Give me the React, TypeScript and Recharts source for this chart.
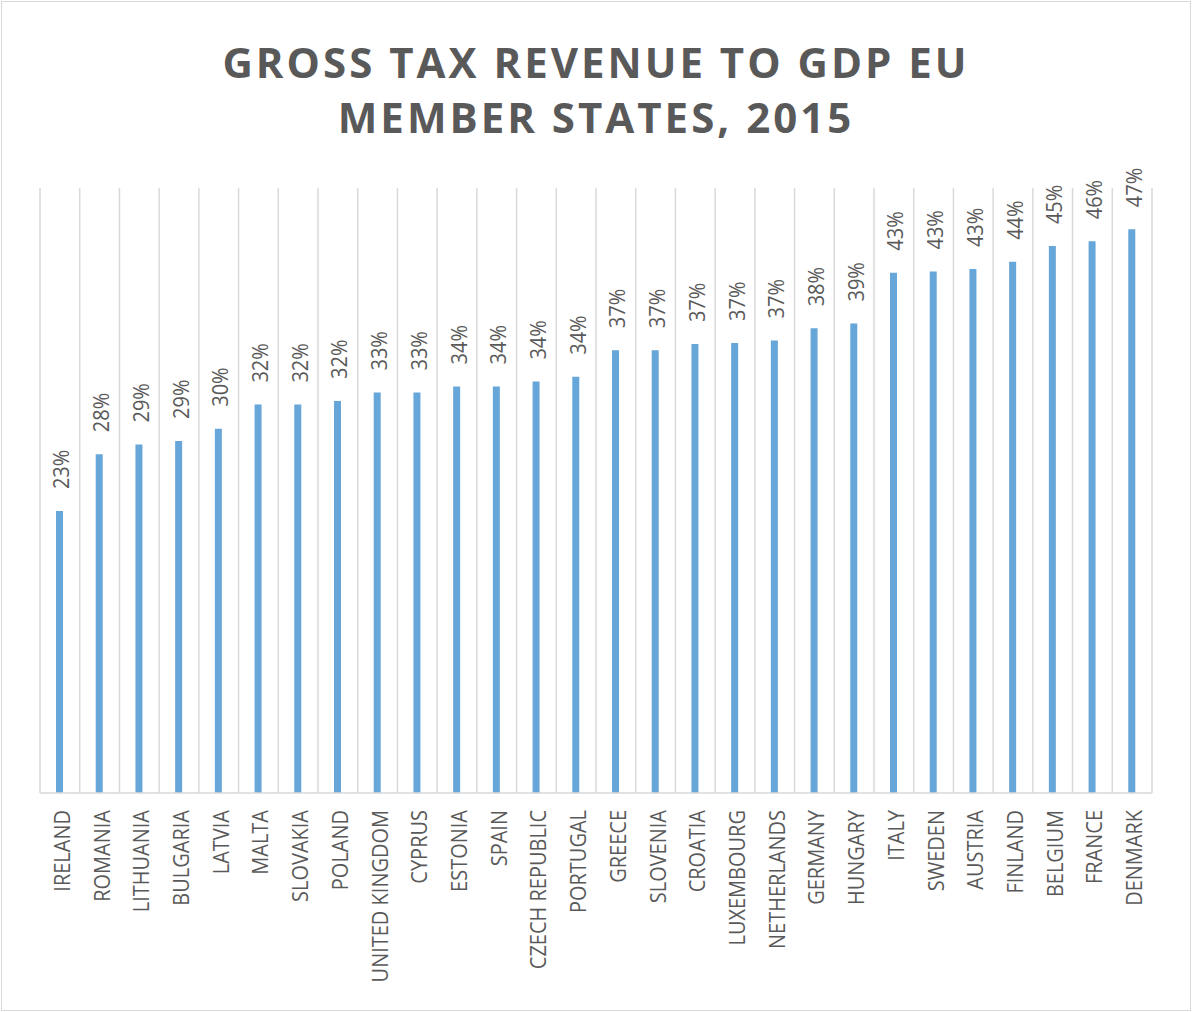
import React from "react";
import { BarChart, Bar, XAxis, YAxis, CartesianGrid, LabelList } from "recharts";

// countries, sorted low to high as in the source chart
const countries = [
  "IRELAND", "ROMANIA", "LITHUANIA", "BULGARIA", "LATVIA", "MALTA", "SLOVAKIA",
  "POLAND", "UNITED KINGDOM", "CYPRUS", "ESTONIA", "SPAIN", "CZECH REPUBLIC",
  "PORTUGAL", "GREECE", "SLOVENIA", "CROATIA", "LUXEMBOURG", "NETHERLANDS",
  "GERMANY", "HUNGARY", "ITALY", "SWEDEN", "AUSTRIA", "FINLAND", "BELGIUM",
  "FRANCE", "DENMARK",
];

// gross tax revenue as % of GDP
const taxToGdp = [
  23.3, 28.0, 28.8, 29.1, 30.1, 32.1, 32.1, 32.4, 33.1, 33.1, 33.6, 33.6, 34.0,
  34.4, 36.6, 36.6, 37.1, 37.2, 37.4, 38.4, 38.8, 43.0, 43.1, 43.3, 43.9, 45.2,
  45.6, 46.6,
];

const yDomain: [number, number] = [0, 50];

const data = countries.map((country, i) => ({ country, value: taxToGdp[i] }));

const textColor = "#595959";
const gridColor = "#d9d9d9";
const font = "'Open Sans', sans-serif";

// vertical text, slightly widened like the source image
const VText = ({ x, y, anchor, children }: any) => (
  <text
    x={0}
    y={0}
    transform={`translate(${x}, ${y}) scale(1.12, 1) rotate(-90)`}
    textAnchor={anchor}
    dominantBaseline="central"
    fill={textColor}
    fontSize={20}
    fontFamily={font}
  >
    {children}
  </text>
);

const CountryTick = (props: any) => {
  const { x, y, payload } = props;
  return (
    <VText x={x + 1} y={y + 17} anchor="end">
      {payload.value}
    </VText>
  );
};

const ValueLabel = (props: any) => {
  const { x, y, width, value } = props;
  return (
    <VText x={x + width / 2 + 1} y={y - 22} anchor="start">
      {Math.round(value)}%
    </VText>
  );
};

export default function App() {
  const n = countries.length;
  return (
    <div
      style={{
        position: "absolute",
        left: 0,
        top: 0,
        width: 1192,
        height: 1012,
        background: "#fff",
      }}
    >
      <div
        style={{
          position: "absolute",
          left: 1,
          top: 1,
          width: 1188,
          height: 1008,
          border: `1px solid ${gridColor}`,
        }}
      />
      <div
        style={{
          position: "absolute",
          left: 0,
          top: 34,
          width: 1192,
          textAlign: "center",
          fontFamily: font,
          fontWeight: 700,
          fontSize: 42,
          lineHeight: "55px",
          letterSpacing: 3,
          color: textColor,
        }}
      >
        GROSS TAX REVENUE TO GDP EU
        <br />
        MEMBER STATES, 2015
      </div>
      <div style={{ position: "absolute", left: 0, top: 0 }}>
        <BarChart
          width={1192}
          height={1012}
          data={data}
          margin={{ top: 188, right: 40, left: 40, bottom: 0 }}
        >
          <CartesianGrid
            horizontal={false}
            stroke={gridColor}
            strokeWidth={1.5}
            verticalCoordinatesGenerator={({ offset }: any) =>
              Array.from({ length: n + 1 }, (_, i) => offset.left + (i * offset.width) / n)
            }
          />
          <XAxis
            dataKey="country"
            interval={0}
            height={219}
            tickSize={0}
            tickMargin={0}
            axisLine={{ stroke: gridColor, strokeWidth: 1.5 }}
            tickLine={false}
            tick={<CountryTick />}
          />
          <YAxis hide domain={yDomain} />
          <Bar dataKey="value" fill="#67a6d9" barSize={7} isAnimationActive={false}>
            <LabelList dataKey="value" content={<ValueLabel />} />
          </Bar>
        </BarChart>
      </div>
    </div>
  );
}
